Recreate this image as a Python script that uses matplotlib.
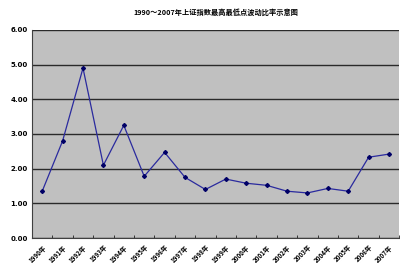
import matplotlib
matplotlib.use("Agg")
import matplotlib.pyplot as plt
import numpy as np

plt.rcParams['font.family'] = ['Noto Sans CJK SC', 'DejaVu Sans']

years = [f"{y}年" for y in range(1990, 2008)]
ratios = [1.35, 2.80, 4.90, 2.10, 3.25, 1.78, 2.47, 1.75, 1.40, 1.70,
          1.58, 1.52, 1.35, 1.30, 1.43, 1.35, 2.33, 2.42]
title = "1990～2007年上证指数最高最低点波动比率示意图"

fig = plt.figure(figsize=(4.0, 2.63), dpi=100)
ax = fig.add_axes([0.08, 0.095, 0.918, 0.791])
ax.set_facecolor('#c0c0c0')

x = np.arange(len(years))
ax.plot(x, ratios, color='#2a2a9e', linewidth=0.9, marker='D', markersize=2.0,
        markerfacecolor='#000066', markeredgecolor='#000066')

ax.set_xlim(-0.5, len(years) - 0.5)
ax.set_ylim(0, 6)
ax.set_yticks(np.arange(0, 7, 1))
ax.set_yticklabels([f"{v:.2f}" for v in range(7)], fontsize=5, fontweight='bold',
                   family='DejaVu Sans')
ax.yaxis.grid(True, color='#2a2a2a', linewidth=1.0)
ax.set_axisbelow(True)

ax.set_xticks(x)
ax.set_xticklabels(years, rotation=45, ha='right', rotation_mode='anchor', fontsize=4.5,
                   fontweight='bold')
ax.set_xticks(np.arange(-0.5, len(years), 1), minor=True)
ax.tick_params(axis='x', which='major', length=0, pad=4)
ax.tick_params(axis='x', which='minor', length=2, direction='in', color='#202020')
ax.tick_params(axis='y', length=0, pad=3)

for side in ['top', 'right']:
    ax.spines[side].set_visible(False)
ax.spines['left'].set_color('#404040')
ax.spines['bottom'].set_color('#404040')

fig.text(0.54, 0.955, title, ha='center', va='center', fontsize=5.2, fontweight='bold')

fig.savefig('out.png', dpi=100)
